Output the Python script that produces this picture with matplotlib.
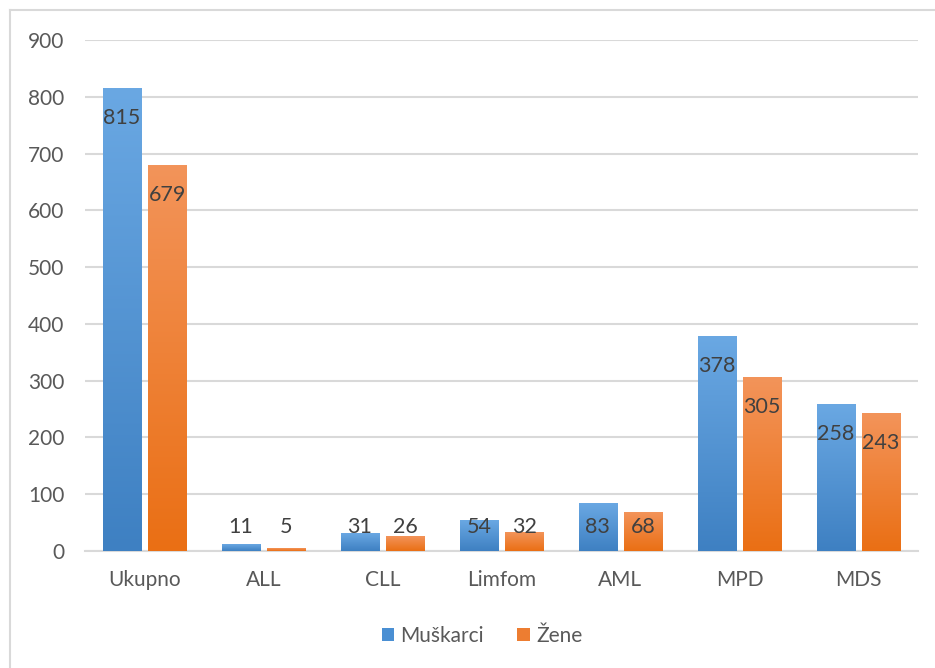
import matplotlib
matplotlib.use("Agg")
import matplotlib.pyplot as plt
import numpy as np
from matplotlib.colors import LinearSegmentedColormap
from matplotlib.patches import Patch
from matplotlib.lines import Line2D

categories = ["Ukupno", "ALL", "CLL", "Limfom", "AML", "MPD", "MDS"]
muskarci = [815, 11, 31, 54, 83, 378, 258]
zene = [679, 5, 26, 32, 68, 305, 243]
series_names = ["Muškarci", "Žene"]
yticks = [0, 100, 200, 300, 400, 500, 600, 700, 800, 900]

plt.rcParams['font.family'] = ['Lato', 'DejaVu Sans']

fig = plt.figure(figsize=(9.35, 6.68), dpi=100)
W, H = 935, 668
ax = fig.add_axes([85 / W, 1 - 551 / H, (918 - 85) / W, (551 - 40) / H])

blue_cmap = LinearSegmentedColormap.from_list("b", ["#3E80C2", "#6AA8E3"])
orange_cmap = LinearSegmentedColormap.from_list("o", ["#EA6F14", "#F3945A"])
grad = np.linspace(0, 1, 256).reshape(-1, 1)

ax.set_xlim(-0.5, len(categories) - 0.5)
ax.set_ylim(0, 900)

bw = 0.32
off = 0.19
x = np.arange(len(categories))
for vals, sign, cmap in [(muskarci, -1, blue_cmap), (zene, 1, orange_cmap)]:
    bars = ax.bar(x + sign * off, vals, width=bw, color='none', edgecolor='none', zorder=3)
    for b, v in zip(bars, vals):
        x0 = b.get_x()
        ax.imshow(grad, extent=[x0, x0 + bw, 0, v], origin='lower', cmap=cmap,
                  aspect='auto', zorder=3, interpolation='bilinear')
        ly = max(v - 52, 42)
        ax.text(b.get_x() + bw / 2, ly, str(v), ha='center', va='center',
                fontsize=15.5, color='#404040', zorder=5)

ax.set_xlim(-0.5, len(categories) - 0.5)
ax.set_ylim(0, 900)

ax.set_yticks(yticks)
ax.set_yticklabels([str(t) for t in yticks])
ax.set_xticks(x)
ax.set_xticklabels(categories)
ax.tick_params(axis='both', length=0, labelsize=15, colors='#595959')
ax.tick_params(axis='y', pad=15)
ax.tick_params(axis='x', pad=14)
ax.grid(axis='y', color='#D9D9D9', linewidth=1.5, zorder=0)
ax.set_axisbelow(True)
for s in ['top', 'right', 'left']:
    ax.spines[s].set_visible(False)
ax.spines['bottom'].set_color('#D9D9D9')
ax.spines['bottom'].set_linewidth(1.5)

handles = [Patch(facecolor='#4A8FD3', edgecolor='none'),
           Patch(facecolor='#ED7D31', edgecolor='none')]
fig.legend(handles, series_names, loc='center', bbox_to_anchor=(482 / W, 1 - 636 / H),
           ncol=2, frameon=False, fontsize=15, handlelength=0.6, handleheight=0.6,
           handletextpad=0.3, columnspacing=1.6, labelcolor='#595959')

# outer chart border
fig.add_artist(Line2D([10 / W, 10 / W], [1 - 10 / H, 0], color='#D9D9D9', lw=1.5))
fig.add_artist(Line2D([10 / W, 1], [1 - 10 / H, 1 - 10 / H], color='#D9D9D9', lw=1.5))

fig.savefig("out.png", dpi=100)
